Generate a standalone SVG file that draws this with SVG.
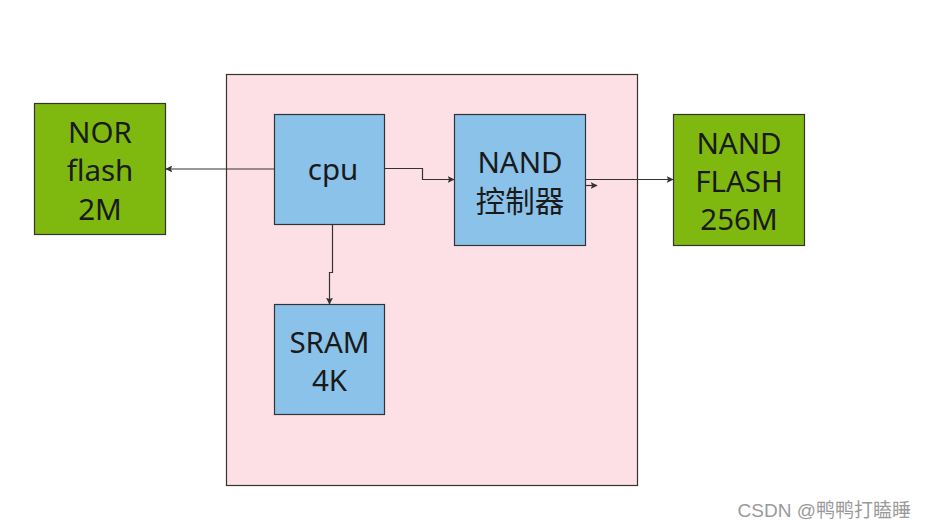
<svg xmlns="http://www.w3.org/2000/svg" width="927" height="529" viewBox="0 0 927 529">
<defs>
<style>
.box{stroke:#333;stroke-width:1.2}
.green{fill:#7FB80E}
.blue{fill:#8BC2EA}
.lbl{font-family:"Noto Sans","Noto Sans CJK SC",sans-serif;font-size:29.5px;fill:#1a1a1a;text-anchor:middle}
.conn{fill:none;stroke:#333;stroke-width:1.2}
</style>
<marker id="arr" viewBox="0 0 10 10" refX="9" refY="5" markerWidth="7" markerHeight="7" markerUnits="userSpaceOnUse" orient="auto">
<path d="M0,0 L10,5 L0,10 L2,5 Z" fill="#333"/>
</marker>
</defs>
<rect width="927" height="529" fill="#fff"/>
<g id="container">
<rect x="226.5" y="74.5" width="411" height="411" fill="#FDE0E6" class="box"/>
</g>
<g id="nor">
<rect x="34.5" y="103.5" width="131" height="131" class="box green"/>
<text class="lbl" x="100" y="142.5">NOR</text>
<text class="lbl" x="100" y="181">flash</text>
<text class="lbl" x="100" y="219.5">2M</text>
</g>
<g id="cpu">
<rect x="274.5" y="114.5" width="110" height="110" class="box blue"/>
<text class="lbl" x="333" y="180">cpu</text>
</g>
<g id="nandctrl">
<rect x="454.5" y="114.5" width="131" height="131" class="box blue"/>
<text class="lbl" x="520" y="172.5">NAND</text>
<text class="lbl" x="520" y="211.5">控制器</text>
</g>
<g id="nandflash">
<rect x="673.5" y="114.5" width="131" height="131" class="box green"/>
<text class="lbl" x="739" y="153.5">NAND</text>
<text class="lbl" x="739" y="191.5">FLASH</text>
<text class="lbl" x="739" y="229.5">256M</text>
</g>
<g id="sram">
<rect x="274.5" y="304.5" width="110" height="110" class="box blue"/>
<text class="lbl" x="329.5" y="352.5">SRAM</text>
<text class="lbl" x="329.5" y="390.5">4K</text>
</g>
<g id="connectors">
<path class="conn" d="M274.5,169 L166,169" marker-end="url(#arr)"/>
<path class="conn" d="M384.5,168.5 L422.5,168.5 L422.5,179.5 L454,179.5" marker-end="url(#arr)"/>
<path class="conn" d="M585.5,179.5 L673,179.5" marker-end="url(#arr)"/>
<path class="conn" d="M585.5,185.5 L597,185.5" marker-end="url(#arr)"/>
<path class="conn" d="M332.5,224.5 L332.5,272.5 L329.5,272.5 L329.5,304" marker-end="url(#arr)"/>
</g>
<text x="911" y="517" font-family="'Liberation Sans','Noto Sans CJK SC',sans-serif" font-size="19" fill="#9a9a9a" text-anchor="end">CSDN @鸭鸭打瞌睡</text>
</svg>
